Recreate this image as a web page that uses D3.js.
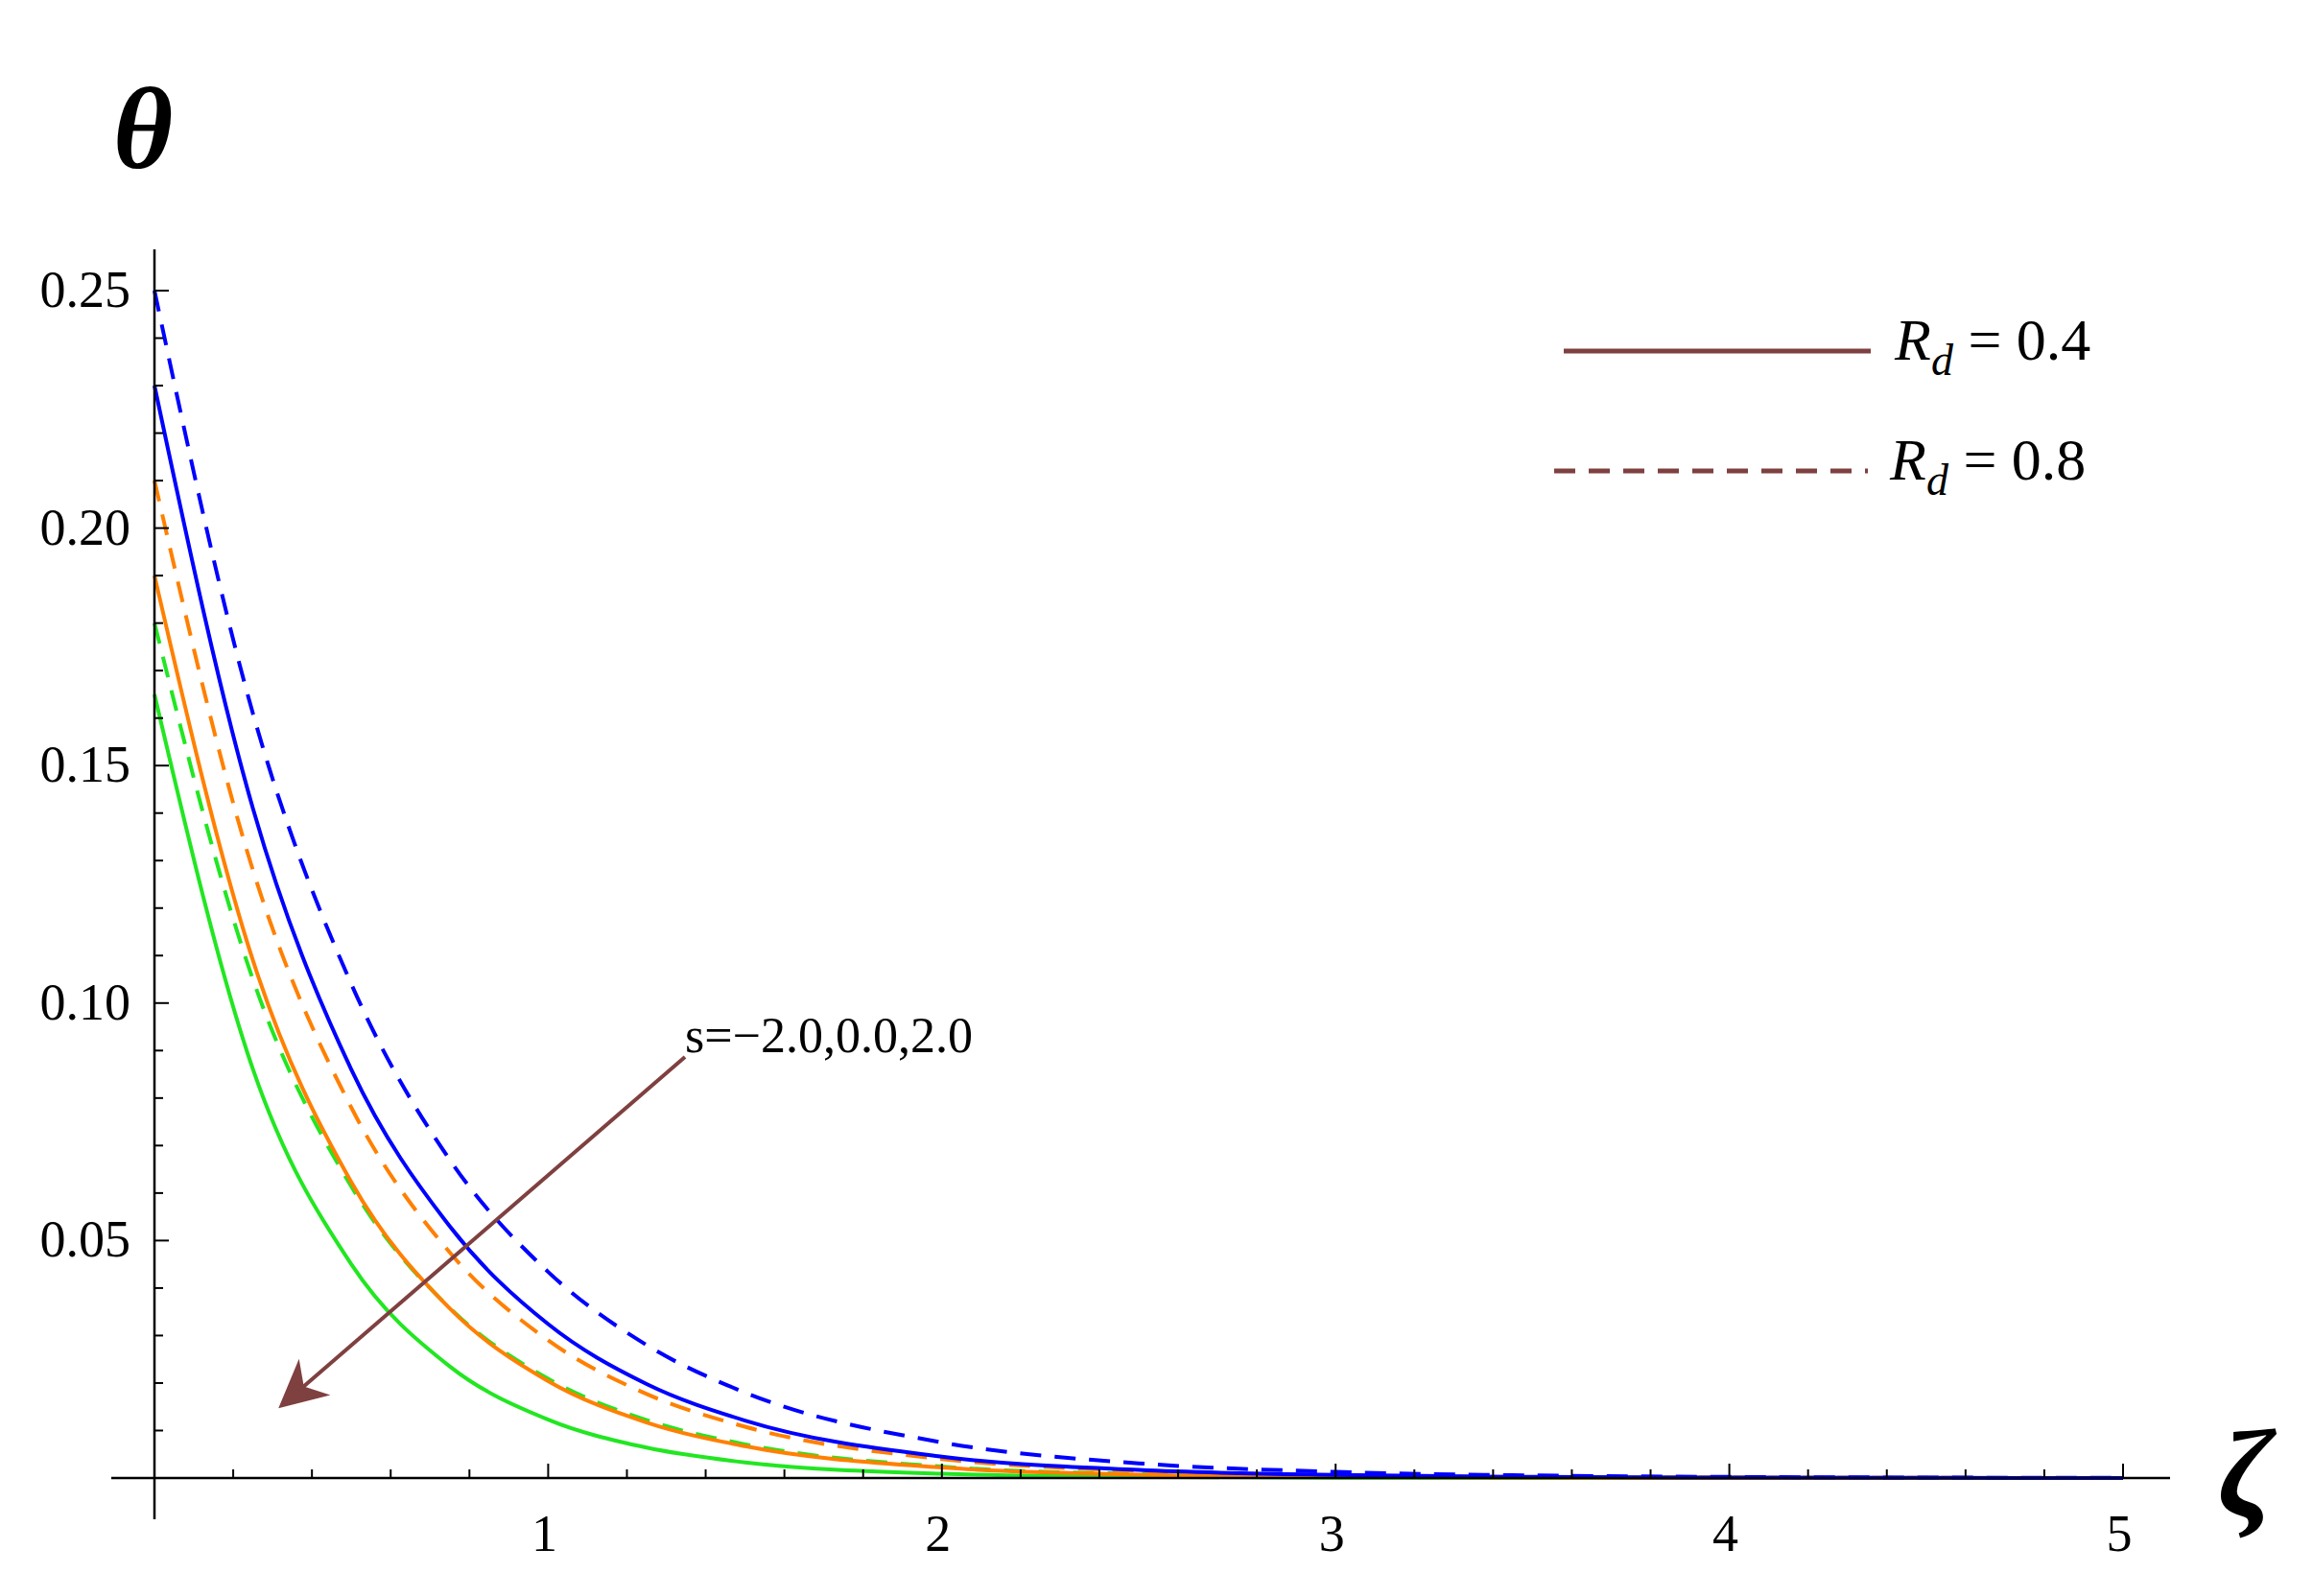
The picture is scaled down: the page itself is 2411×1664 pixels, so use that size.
<!DOCTYPE html><html><head><meta charset="utf-8"><script src="https://cdn.jsdelivr.net/npm/d3@7"></script>
<style>body{margin:0;background:#fff}</style></head><body><svg id="c" width="2411" height="1664"></svg><script>
const xs=[0,0.25,0.5,0.75,1,1.25,1.5,2,2.5,3,3.5,4,4.5,5];
const blueDash=[0.25,0.161,0.104,0.067,0.0434,0.028,0.018,0.0075,0.0031,0.0013,0.00055,0.00023,0.0001,0.00004];
const blueSolid=[0.23,0.141,0.086,0.053,0.0324,0.0198,0.0121,0.0045,0.0017,0.00064,0.00024,0.00009,0.00003,0.00001];
const orangeDash=[0.21,0.128,0.078,0.0475,0.029,0.0177,0.0108,0.004,0.0015,0.00055,0.0002,0.00008,0.00003,0.00001];
const orangeSolid=[0.19,0.109,0.0623,0.0357,0.0204,0.0117,0.0067,0.0022,0.00072,0.00024,0.00008,0.00003,0.00001,0];
const greenDash=[0.18,0.105,0.0614,0.0358,0.0209,0.0122,0.0071,0.0024,0.00083,0.00028,0.0001,0.00003,0.00001,0];
const greenSolid=[0.165,0.0861,0.045,0.0235,0.0123,0.0064,0.0033,0.0009,0.00025,0.00007,0.00002,0.00001,0,0];
const yTicks=[0.05,0.10,0.15,0.20,0.25];
const xTicks=[1,2,3,4,5];
const series=[
 {v:greenSolid,c:"#22e622",d:null},{v:greenDash,c:"#22e622",d:"22,14"},
 {v:orangeSolid,c:"#ff8000",d:null},{v:orangeDash,c:"#ff8000",d:"22,14"},
 {v:blueSolid,c:"#0000ff",d:null},{v:blueDash,c:"#0000ff",d:"22,14"}];
const svg=d3.select("#c");
const x=d3.scaleLinear().domain([0,5]).range([161,2213]);
const y=d3.scaleLinear().domain([0,0.25]).range([1541,303]);
const F="Liberation Serif, DejaVu Serif, serif";
const line=d3.line().x((d,i)=>x(xs[i])).y(d=>y(d)).curve(d3.curveMonotoneX);
series.forEach(s=>svg.append("path").attr("d",line(s.v)).attr("fill","none").attr("stroke",s.c).attr("stroke-width",4).attr("stroke-dasharray",s.d));
// axes
svg.append("line").attr("x1",116).attr("x2",2262).attr("y1",y(0)).attr("y2",y(0)).attr("stroke","#000").attr("stroke-width",2.5);
svg.append("line").attr("x1",x(0)).attr("x2",x(0)).attr("y1",260).attr("y2",1584).attr("stroke","#000").attr("stroke-width",2.5);
d3.range(1,26).forEach(i=>{const v=i*0.01,maj=i%5==0;svg.append("line").attr("x1",x(0)).attr("x2",x(0)+(maj?15:9)).attr("y1",y(v)).attr("y2",y(v)).attr("stroke","#000").attr("stroke-width",2);});
d3.range(1,26).forEach(i=>{const v=i*0.2,maj=i%5==0;svg.append("line").attr("x1",x(v)).attr("x2",x(v)).attr("y1",y(0)).attr("y2",y(0)-(maj?15:9)).attr("stroke","#000").attr("stroke-width",2);});
yTicks.forEach(t=>svg.append("text").attr("x",136).attr("y",y(t)+17).attr("text-anchor","end").attr("font-family",F).attr("font-size",54).text(t.toFixed(2)));
xTicks.forEach(t=>svg.append("text").attr("x",x(t)-4).attr("y",1617).attr("text-anchor","middle").attr("font-family",F).attr("font-size",54).text(t));
svg.append("text").attr("x",118).attr("y",175).attr("font-family",F).attr("font-size",120).attr("font-style","italic").attr("font-weight","bold").text("θ");
svg.append("text").attr("x",2312).attr("y",1580).attr("font-family",F).attr("font-size",130).attr("font-style","italic").attr("font-weight","bold").text("ζ");
// arrow
const B="#7f4040";
svg.append("defs").append("marker").attr("id","ah").attr("viewBox","0 0 10 10").attr("refX",9).attr("refY",5).attr("markerWidth",9).attr("markerHeight",6).attr("markerUnits","userSpaceOnUse").attr("orient","auto")
 .attr("markerWidth",80).attr("markerHeight",50).append("path").attr("d","M0,0 L10,5 L0,10 L3,5 Z").attr("fill",B);
svg.append("line").attr("x1",714).attr("y1",1102).attr("x2",294).attr("y2",1465).attr("stroke",B).attr("stroke-width",4).attr("marker-end","url(#ah)");
svg.append("text").attr("x",714).attr("y",1097).attr("font-family",F).attr("font-size",52).text("s=−2.0,0.0,2.0");
// legend
svg.append("line").attr("x1",1630).attr("x2",1950).attr("y1",366).attr("y2",366).attr("stroke",B).attr("stroke-width",5);
svg.append("line").attr("x1",1620).attr("x2",1947).attr("y1",491).attr("y2",491).attr("stroke",B).attr("stroke-width",5).attr("stroke-dasharray","22,14");
[["0.4",375],["0.8",500]].forEach(([v,yy],i)=>{const t=svg.append("text").attr("x",i?1970:1975).attr("y",yy).attr("font-family",F).attr("font-size",62);
 t.append("tspan").attr("font-style","italic").text("R");t.append("tspan").attr("font-style","italic").attr("font-size",46).attr("dy",16).text("d");
 t.append("tspan").attr("dy",-16).text(" = "+v);});
</script></body></html>
